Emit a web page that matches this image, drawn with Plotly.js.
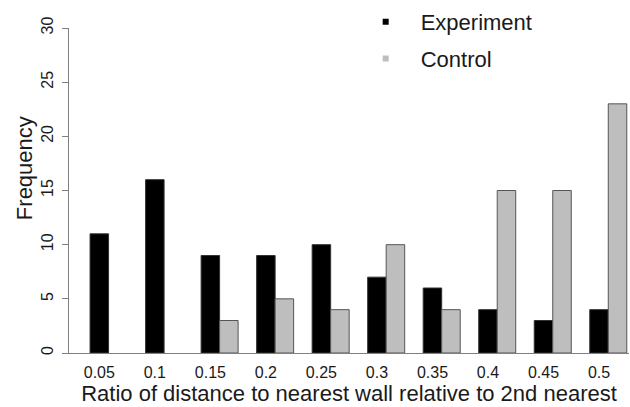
<!DOCTYPE html>
<html>
<head>
<meta charset="utf-8">
<script src="https://cdn.plot.ly/plotly-3.0.1.min.js"></script>
<style>html,body{margin:0;padding:0;background:#fff;}#chart{width:630px;height:407px;}</style>
</head>
<body>
<div id="chart"></div>
<script>
const categories = ["0.05","0.1","0.15","0.2","0.25","0.3","0.35","0.4","0.45","0.5"];
const experiment = [11,16,9,9,10,7,6,4,3,4];
const control = [0,0,3,5,4,10,4,15,15,23];
const seriesNames = ["Experiment","Control"];
const yTicks = [0,5,10,15,20,25,30];

const idx = categories.map((c,i)=>i);
const barW = 1/3;
const font = "Liberation Sans, Arial, sans-serif";
const txt = "#1a1a1a";
const outline = vals => vals.map(v => v === 0 ? 0 : 1);

const traces = [
  {type:"bar", x:idx, y:experiment, width:barW, offset:-barW/2,
   marker:{color:"#000000", line:{color:"#333333", width:outline(experiment)}}, showlegend:false, hoverinfo:"y"},
  {type:"bar", x:idx, y:control, width:barW, offset:barW/2,
   marker:{color:"#bebebe", line:{color:"#555555", width:outline(control)}}, showlegend:false, hoverinfo:"y"},
  {type:"scatter", mode:"markers", x:[null], y:[null], name:seriesNames[0], legendgroup:"a",
   marker:{symbol:"square", size:6, color:"#000000"}},
  {type:"scatter", mode:"markers", x:[null], y:[null], name:seriesNames[1], legendgroup:"b",
   marker:{symbol:"square", size:6, color:"#bebebe"}}
];

const layout = {
  width:630, height:407,
  margin:{l:69, r:1, t:26, b:54, pad:0},
  paper_bgcolor:"#ffffff", plot_bgcolor:"#ffffff",
  font:{family:font, color:txt, size:16},
  barmode:"overlay",
  showlegend:true,
  legend:{x:0.503, y:1.083, xanchor:"left", yanchor:"top", bgcolor:"rgba(0,0,0,0)",
          font:{family:font, size:22, color:txt}, itemwidth:60, traceorder:"grouped",
          tracegroupgap:5, borderwidth:0},
  xaxis:{range:[-0.546, 9.54], tickmode:"array", tickvals:idx, ticktext:categories,
         showgrid:false, zeroline:false, showline:true, linecolor:"#808080", linewidth:1,
         ticks:"", ticklabelstandoff:5, tickfont:{size:16, color:txt},
         title:{text:"Ratio of distance to nearest wall relative to 2nd nearest",
                font:{size:22, color:txt}, standoff:1}, fixedrange:true},
  yaxis:{range:[0,30], tickmode:"array", tickvals:yTicks, ticktext:yTicks.map(String),
         tickangle:-90, showgrid:false, zeroline:false, showline:true, linecolor:"#808080",
         linewidth:1, ticks:"outside", ticklen:6, tickcolor:"#808080", tickwidth:1,
         ticklabelstandoff:3, tickfont:{size:16, color:txt}, fixedrange:true},
  annotations:[{text:"Frequency", xref:"paper", yref:"paper", x:-45/560, y:(353-167)/327,
                xanchor:"center", yanchor:"middle", textangle:-90, showarrow:false,
                font:{family:font, size:22, color:txt}}]
};

Plotly.newPlot("chart", traces, layout, {displayModeBar:false, staticPlot:true});
</script>
</body>
</html>
